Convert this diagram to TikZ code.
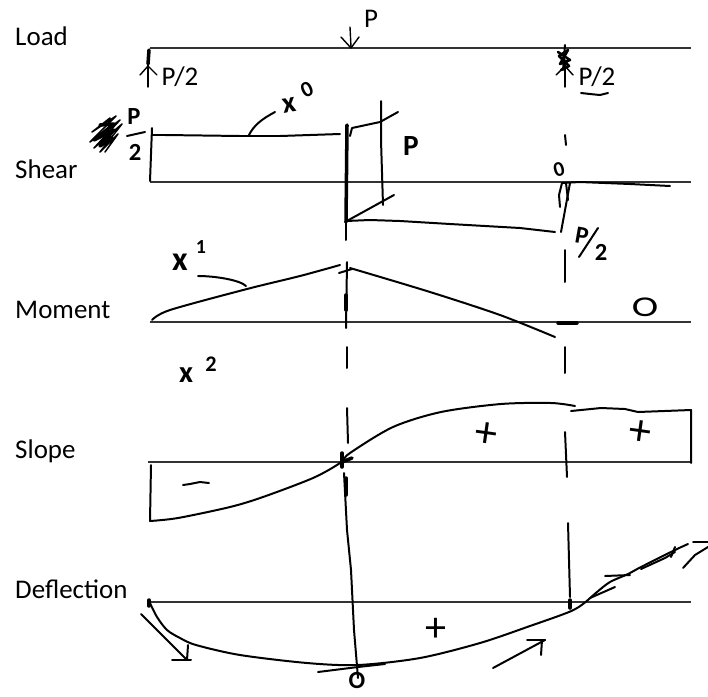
\documentclass[tikz,border=0pt]{standalone}
\usepackage{fontspec}
\setmainfont{Carlito}
\usetikzlibrary{positioning}
\tikzset{
  axisline/.style={draw=black!80,line width=0.9pt},
  ink/.style={black,line width=1.7pt,line cap=round,line join=round},
  thinink/.style={black,line width=1.2pt,line cap=round,line join=round},
  heavyink/.style={black,line width=3pt,line cap=round},
  rowlabel/.style={font=\fontsize{23}{23}\selectfont,anchor=base west,inner sep=0pt},
  typed/.style={font=\fontsize{23}{23}\selectfont,inner sep=0pt},
  hand/.style={font=\bfseries\fontsize{21}{21}\selectfont,inner sep=0pt}
}
\begin{document}
\begin{tikzpicture}[x=0.03cm,y=-0.03cm]
\useasboundingbox (0,0) rectangle (708,696);
% row labels
\node[rowlabel] (load) at (15,45) {Load};
\node[rowlabel] (shear) at (15,178) {Shear};
\node[rowlabel] (moment) at (15,318) {Moment};
\node[rowlabel] (slope) at (15,458) {Slope};
\node[rowlabel] (deflection) at (15,598) {Deflection};
% axes
\draw[axisline] (150,48) -- (691,48);
\draw[axisline] (150,182) -- (691,182);
\draw[axisline] (150,322) -- (691,322);
\draw[axisline] (148,462) -- (691,462);
\draw[axisline] (148,602) -- (691,602);

% load
\draw[heavyink] (149,50) -- (148,64);
\draw[thinink] (148,64) -- (148,87);
\draw[thinink] (140,75) -- (148,66) -- (157,75);
\node[typed] (leftforce) at (180,77) {P/2};
\draw[thinink] (350,27) -- (351,47);
\draw[thinink] (341,37) -- (351,48) -- (359,37);
\node[typed] (midforce) at (371,19) {P};
\draw[thinink] (565,60) -- (565,87);
\draw[thinink] (556,75) -- (565,66) -- (573,75);
\draw[ink] (565,45) -- (563,70);
\draw[ink,line width=2.2pt] (558,52) -- (570,60) -- (560,64) -- (568,50) -- (559,56) -- (569,66) -- (561,70);
\node[typed] (rightforce) at (597,77) {P/2};
\draw[ink] (581,93) -- (590,94) -- (600,95) -- (608,93);

% shear
\draw[ink] (152,128) -- (150,181);
\draw[ink] (152,135) -- (165,135) -- (240,136) -- (280,136) -- (340,134);
\draw[ink] (249,135) .. controls (254,125) and (262,119) .. (275,112);
\node[hand,font=\bfseries\fontsize{25}{25}\selectfont,rotate=10] (xzero) at (289,105) {x};
\node[hand,rotate=25,font=\bfseries\fontsize{19}{19}\selectfont] (xzeroexp) at (307,90) {0};
\draw[heavyink] (347,125) -- (346,222);
\draw[ink] (346,222) -- (346,240);
\draw[ink] (350,136) -- (352,128) -- (380,122) -- (398,112);
\draw[ink] (381,101) -- (381,140) -- (383,205);
\draw[ink] (345,222) -- (394,195);
\node[hand,font=\bfseries\fontsize{25}{25}\selectfont] (jump) at (411,146) {P};
\draw[ink] (346,221) -- (370,220) -- (400,221) -- (450,224) -- (520,228) -- (555,232);
\draw[ink,line width=1.3pt] (110,118) -- (92,132) -- (116,116) -- (90,142) -- (120,120) -- (94,148) -- (122,124) -- (100,152) -- (118,134) -- (105,152);
\draw[ink,line width=3pt] (100,125) -- (114,124) -- (94,140) -- (114,130) -- (100,146) -- (112,138);
\node[hand] (leftshearp) at (134,117) {P};
\draw[ink] (127,136) -- (145,132);
\node[hand] (leftsheartwo) at (135,152) {2};
\draw[ink] (565,135) -- (566,145);
\node[hand,rotate=15,font=\bfseries\fontsize{18}{18}\selectfont] (shearzero) at (559,170) {0};
\draw[ink] (562,183) -- (559,195) -- (560,207);
\draw[ink] (570,183) -- (561,232);
\draw[ink] (566,183) -- (568,200);
\draw[ink] (562,183) -- (580,182) -- (630,184) -- (670,186);
\draw[ink] (565,250) -- (565,282);
\node[hand,rotate=-10] (rightshearp) at (582,236) {P};
\draw[ink] (579,257) -- (598,228);
\node[hand] (rightsheartwo) at (601,252) {2};

% moment
\draw[ink] plot[smooth] coordinates {(152,320) (170,310) (247,289) (300,276) (340,265)};
\draw[ink] plot[smooth] coordinates {(350,268) (430,292) (500,315) (555,337)};
\node[hand,font=\bfseries\fontsize{29}{29}\selectfont] (xone) at (180,262) {x};
\node[hand,font=\bfseries\fontsize{17}{17}\selectfont] (xoneexp) at (201,247) {1};
\draw[ink] (198,276) .. controls (215,276) and (240,280) .. (246,286);
\draw[ink] (347,262) -- (346,328);
\draw[heavyink] (346,295) -- (346,310);
\draw[ink] (339,273) -- (352,269);
\draw[heavyink] (558,323) -- (577,323);
\node[hand,font=\fontsize{34}{34}\selectfont,yscale=0.72,transform shape] (momentzero) at (645,307) {O};
\node[hand,font=\bfseries\fontsize{26}{26}\selectfont] (xtwo) at (186,375) {x};
\node[hand,font=\bfseries\fontsize{19}{19}\selectfont] (xtwoexp) at (211,364) {2};

% slope
\draw[ink] (151,465) -- (150,521);
\draw[ink] plot[smooth] coordinates {(150,521) (178,518) (230,507) (263,497) (313,478) (340,463) (350,453) (393,427)
  (441,412) (501,404) (551,403) (575,406)};
\draw[ink] (571,411) -- (601,408) -- (625,409) -- (638,412) -- (691,410) -- (691,463);
\draw[ink] (347,347) -- (347,368);
\draw[ink] (347,408) -- (348,443);
\draw[heavyink] (342,453) -- (342,467);
\draw[heavyink] (342,462) -- (352,458);
\draw[ink] (344,473) -- (347,530);
\draw[heavyink] (346,478) -- (346,495);
\draw[ink] (565,347) -- (565,373);
\draw[ink] (565,432) -- (567,477);
\draw[ink] (183,485) -- (190,484) -- (200,482) -- (209,483);
\node[hand,font=\fontsize{38}{38}\selectfont,rotate=-8] (slopeplusa) at (486,435) {+};
\node[hand,font=\fontsize{38}{38}\selectfont,rotate=-8] (slopeplusb) at (640,433) {+};

% deflection
\draw[heavyink] (149,600) -- (149,606);
\draw[ink] plot[smooth] coordinates {(150,603) (157,617) (167,630) (180,638) (196,645) (240,655) (307,663) (358,665)
  (420,658) (480,643) (530,626) (569,612) (583,604) (597,592) (610,582) (628,574) (641,567) (675,550) (688,544)};
\draw[ink] (141,614) -- (186,659);
\draw[ink] (172,660) -- (191,660);
\draw[ink] (187,660) -- (188,645);
\draw[ink] (318,672) -- (358,667) -- (385,664);
\draw[ink] (347,530) -- (351,570) -- (354,630) -- (358,678);
\node[hand,font=\bfseries\fontsize{21}{21}\selectfont] (deflectionzero) at (357,681) {O};
\node[hand,font=\fontsize{36}{36}\selectfont] (deflectionplus) at (436,630) {+};
\draw[ink] (493,668) -- (545,640);
\draw[ink] (527,640) -- (545,640);
\draw[ink] (542,640) -- (541,655);
\draw[ink] (568,523) -- (570,597);
\draw[heavyink] (570,600) -- (570,608);
\draw[ink] (590,598) -- (615,587);
\draw[ink] (605,576) -- (630,575);
\draw[ink] (641,569) -- (665,558) -- (675,552);
\draw[ink] (675,547) -- (671,557);
\draw[ink] (693,542) -- (708,542);
\draw[ink] (708,547) -- (695,555) -- (683,568);
\end{tikzpicture}
\end{document}
